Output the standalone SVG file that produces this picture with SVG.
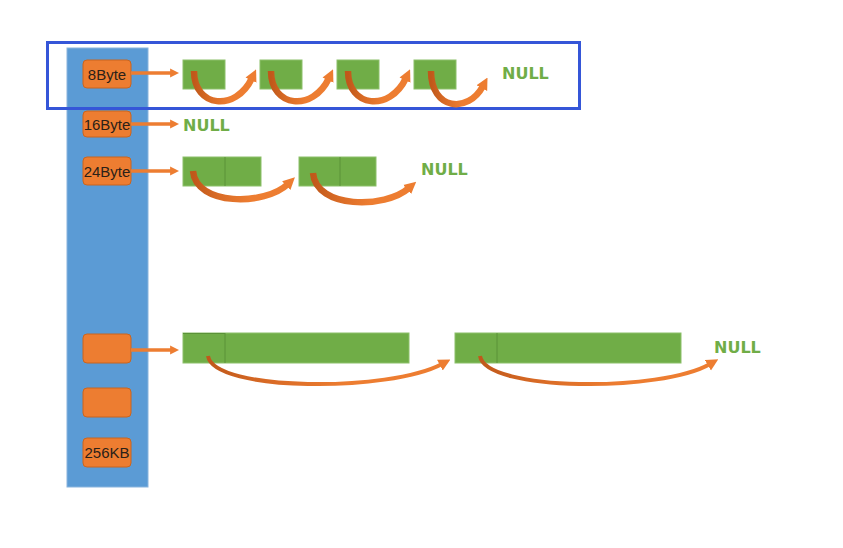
<svg xmlns="http://www.w3.org/2000/svg" width="843" height="548" viewBox="0 0 843 548">
<defs>
<style>
.col{fill:#5B9BD5;stroke:#8AB4DD;stroke-width:1}
.ob{fill:#ED7D31;stroke:#C9651F;stroke-width:1}
.ot{font-family:"Liberation Sans",Arial,sans-serif;font-size:15px;fill:#2b2118;text-anchor:middle}
.gb{fill:#70AD47;stroke:#8CC06A;stroke-width:1}
.dv{stroke:#5B9238;stroke-width:1}
.null{font-family:"DejaVu Sans",sans-serif;font-weight:bold;font-size:16px;fill:#70AD47}
.sa{stroke:#ED7D31;stroke-width:3.5;fill:none;marker-end:url(#sh)}
.ca{stroke:url(#cg);stroke-width:6.5;fill:none;marker-end:url(#ah)}
.cb{stroke:url(#cg);stroke-width:4;fill:none;marker-end:url(#ah)}
</style>
<linearGradient id="cg" x1="0" y1="0" x2="1" y2="0">
<stop offset="0" stop-color="#C0581A"/>
<stop offset="0.25" stop-color="#D86A25"/>
<stop offset="0.6" stop-color="#ED7D31"/>
<stop offset="1" stop-color="#ED7D31"/>
</linearGradient>
<marker id="sh" viewBox="0 0 10 10" refX="1" refY="5" markerWidth="9" markerHeight="11" markerUnits="userSpaceOnUse" orient="auto">
<path d="M0,0 L10,5 L0,10 z" fill="#ED7D31"/>
</marker>
<marker id="ah" viewBox="0 0 10 10" refX="2" refY="5" markerWidth="12" markerHeight="15" markerUnits="userSpaceOnUse" orient="auto">
<path d="M0,0 L10,5 L0,10 z" fill="#ED7D31"/>
</marker>
</defs>
<rect width="843" height="548" fill="#FFFFFF"/>
<g id="column"><rect class="col" x="67" y="48" width="81" height="439"/></g>
<g id="highlight"><rect x="47.5" y="42.5" width="532" height="66" fill="none" stroke="#3556D8" stroke-width="3"/></g>
<g id="n8Byte"><rect class="ob" x="83" y="60" width="48" height="28" rx="4"/><text class="ot" x="107" y="80">8Byte</text></g>
<g id="n16Byte"><rect class="ob" x="83" y="111" width="48" height="26" rx="4"/><text class="ot" x="107" y="130">16Byte</text></g>
<g id="n24Byte"><rect class="ob" x="83" y="157" width="48" height="28" rx="4"/><text class="ot" x="107" y="177">24Byte</text></g>
<g id="nEmpty1"><rect class="ob" x="83" y="334" width="48" height="29" rx="4"/></g>
<g id="nEmpty2"><rect class="ob" x="83" y="388" width="48" height="29" rx="4"/></g>
<g id="n256KB"><rect class="ob" x="83" y="438" width="48" height="29" rx="4"/><text class="ot" x="107" y="458">256KB</text></g>
<g id="row8">
<rect class="gb" x="183" y="60" width="42" height="29"/>
<rect class="gb" x="260" y="60" width="42" height="29"/>
<rect class="gb" x="337" y="60" width="42" height="29"/>
<rect class="gb" x="414" y="60" width="42" height="29"/>
<text class="null" x="502" y="79">NULL</text>
</g>
<g id="row16"><text class="null" x="183" y="131">NULL</text></g>
<g id="row24">
<rect class="gb" x="183" y="157" width="78" height="29"/><line class="dv" x1="225" y1="157" x2="225" y2="186"/>
<rect class="gb" x="299" y="157" width="77" height="29"/><line class="dv" x1="340" y1="157" x2="340" y2="186"/>
<text class="null" x="421" y="175">NULL</text>
</g>
<g id="rowBig">
<rect class="gb" x="183" y="333" width="226" height="30"/><line class="dv" x1="225" y1="333" x2="225" y2="363"/><line class="dv" x1="183" y1="333.5" x2="225" y2="333.5"/>
<rect class="gb" x="455" y="333" width="226" height="30"/><line class="dv" x1="497" y1="333" x2="497" y2="363"/>
<text class="null" x="714" y="353">NULL</text>
</g>
<g id="connectors">
<path class="sa" d="M131,73 H171"/>
<path class="sa" d="M131,124 H171"/>
<path class="sa" d="M131,171 H171"/>
<path class="sa" d="M131,350 H171"/>
<path class="ca" d="M194,71 C194,108 236,112 252,78"/>
<path class="ca" d="M271,71 C271,108 313,112 329,78"/>
<path class="ca" d="M348,71 C348,108 390,112 406,78"/>
<path class="ca" d="M431,71 C431,110 468,114 483,86"/>
<path class="ca" d="M193,171 C196,206 265,206 288,184"/>
<path class="ca" d="M313,173 C316,209 385,209 409,188"/>
<path class="cb" d="M208,356 C214,392 390,392 442,364"/>
<path class="cb" d="M480,356 C486,392 662,392 710,364"/>
</g>
</svg>
